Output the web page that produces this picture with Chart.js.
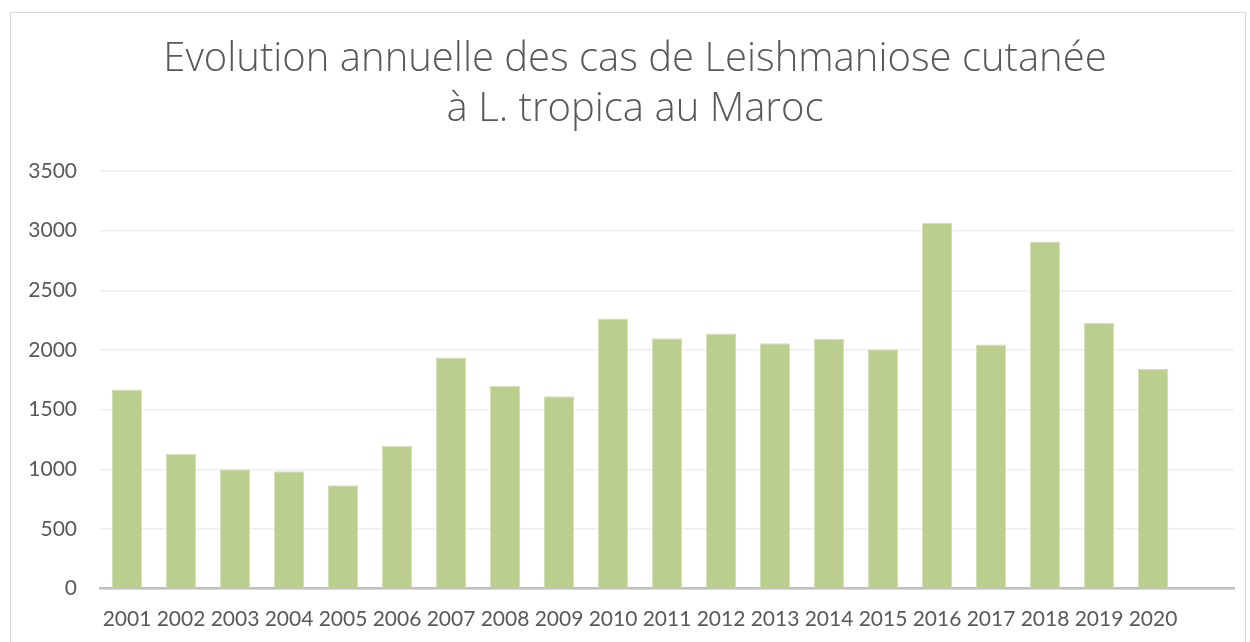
<!DOCTYPE html>
<html>
<head>
<meta charset="utf-8">
<script src="https://cdn.jsdelivr.net/npm/chart.js@4.4.1/dist/chart.umd.min.js"></script>
<style>
  html, body { margin: 0; padding: 0; background: #ffffff; }
  body { width: 1250px; height: 642px; overflow: hidden; position: relative; }
  #frame { position: absolute; left: 10px; top: 12px; width: 1236px; height: 700px; border: 1.5px solid #d9d9d9; box-sizing: border-box; }
  #wrap { position: absolute; left: 0; top: 0; width: 1250px; height: 642px; }
</style>
</head>
<body>
<div id="frame"></div>
<div id="wrap"><canvas id="c" width="1250" height="642"></canvas></div>
<script>
const years = ['2001','2002','2003','2004','2005','2006','2007','2008','2009','2010',
               '2011','2012','2013','2014','2015','2016','2017','2018','2019','2020'];
const cases = [1670, 1128, 1000, 985, 867, 1198, 1938, 1698, 1612, 2265,
               2098, 2138, 2057, 2092, 2007, 3065, 2046, 2909, 2227, 1840];
const extraSlots = [''];
const titleLines = ['Evolution annuelle des cas de Leishmaniose cutanée', 'à L. tropica au Maroc'];
const yTicks = { min: 0, max: 3500, step: 500 };

const labels = years.concat(extraSlots);

// Centre the title over the chart frame (as in the reference) rather than the full canvas.
const titleShift = {
  id: 'titleShift',
  afterLayout(chart) {
    if (chart.titleBlock) { chart.titleBlock.left = 36; }
  }
};

new Chart(document.getElementById('c'), {
  type: 'bar',
  data: {
    labels: labels,
    datasets: [{
      data: cases,
      backgroundColor: '#bbce8d',
      borderColor: '#d3e1b5',
      borderWidth: 1,
      categoryPercentage: 1.0,
      barPercentage: 0.556
    }]
  },
  plugins: [titleShift],
  options: {
    responsive: false,
    animation: false,
    devicePixelRatio: 1,
    layout: { padding: { left: 0, right: 16, top: 0, bottom: 0 } },
    plugins: {
      legend: { display: false },
      tooltip: { enabled: false },
      title: {
        display: true,
        text: titleLines,
        color: '#595959',
        font: { family: '"Open Sans"', size: 40, weight: '300', lineHeight: 1.25 },
        padding: { top: 35, bottom: 36 }
      }
    },
    scales: {
      x: {
        grid: { display: false, drawTicks: false },
        border: { display: true, color: '#bfbfbf', width: 2.5 },
        ticks: {
          color: '#595959',
          font: { family: 'Lato', size: 21 },
          padding: 18,
          autoSkip: false,
          maxRotation: 0,
          minRotation: 0
        },
        afterFit: function(s) { s.height = 53.3; }
      },
      y: {
        min: yTicks.min,
        max: yTicks.max,
        grid: { color: '#eeeeee', lineWidth: 1.5, drawTicks: false },
        border: { display: false },
        ticks: {
          stepSize: yTicks.step,
          color: '#595959',
          font: { family: 'Lato', size: 21 },
          padding: 23,
          callback: function(v) { return String(v); }
        },
        afterFit: function(s) { s.width = 100; }
      }
    }
  }
});
</script>
</body>
</html>
